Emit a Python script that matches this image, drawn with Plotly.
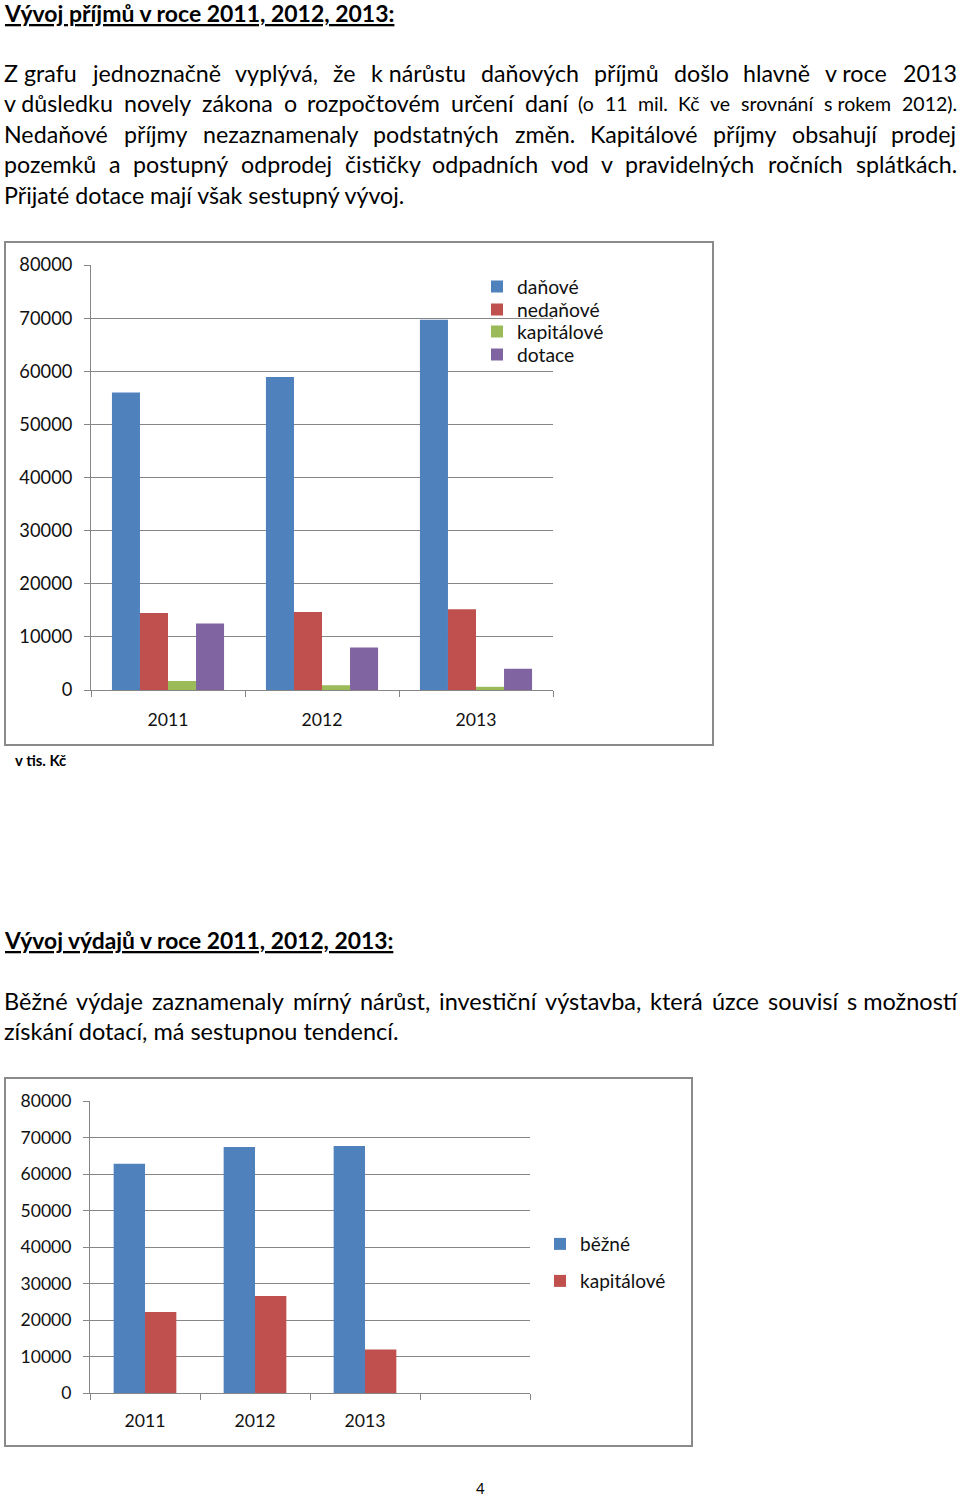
import glob
import os
import struct

import plotly.graph_objects as go

# ---------------- data ----------------
years = ["2011", "2012", "2013"]

# Vývoj příjmů (v tis. Kč)
danove = [56000, 58900, 69700]
nedanove = [14500, 14700, 15200]
kapitalove_prijmy = [1700, 900, 600]
dotace = [12500, 8000, 4000]

# Vývoj výdajů (v tis. Kč)
bezne = [62800, 67400, 67700]
kapitalove_vydaje = [22200, 26600, 11900]

y_ticks = [0, 10000, 20000, 30000, 40000, 50000, 60000, 70000, 80000]

# ---------------- font metrics (for text sizing / justification) ----------------
def find_font(pattern):
    for d in ["/usr/share/fonts", "/usr/local/share/fonts",
              os.path.expanduser("~/.fonts"), os.path.expanduser("~/.local/share/fonts")]:
        hits = glob.glob(os.path.join(d, "**", pattern), recursive=True)
        if hits:
            return sorted(hits)[0]
    return None


class Metrics:
    def __init__(self, path):
        self.ok = False
        self.cmap = {}
        try:
            self._load(path)
            self.ok = True
        except Exception:
            self.ok = False

    def _load(self, path):
        data = open(path, "rb").read()
        H = lambda o: struct.unpack(">H", data[o:o + 2])[0]
        h = lambda o: struct.unpack(">h", data[o:o + 2])[0]
        I = lambda o: struct.unpack(">I", data[o:o + 4])[0]
        n = H(4)
        tables = {}
        for i in range(n):
            tag = data[12 + 16 * i:16 + 16 * i].decode("latin1")
            tables[tag] = I(12 + 16 * i + 8)
        self.upem = H(tables["head"] + 18)
        nhm = H(tables["hhea"] + 34)
        ho = tables["hmtx"]
        self.adv = [H(ho + 4 * i) for i in range(nhm)]
        co = tables["cmap"]
        nsub = H(co + 2)
        sub4 = sub12 = None
        for i in range(nsub):
            soff = I(co + 8 + 8 * i)
            fmt = H(co + soff)
            if fmt == 12:
                sub12 = co + soff
            elif fmt == 4 and sub4 is None:
                sub4 = co + soff
        if sub12 is not None:
            ng = I(sub12 + 12)
            for g in range(ng):
                b = sub12 + 16 + 12 * g
                s, e, sg = I(b), I(b + 4), I(b + 8)
                for c in range(s, min(e, 0x2FFFF) + 1):
                    self.cmap[c] = sg + (c - s)
        elif sub4 is not None:
            o = sub4
            segx2 = H(o + 6)
            ends = o + 14
            starts = ends + segx2 + 2
            deltas = starts + segx2
            ranges = deltas + segx2
            for s in range(segx2 // 2):
                end, start = H(ends + 2 * s), H(starts + 2 * s)
                delta, ro = h(deltas + 2 * s), H(ranges + 2 * s)
                for c in range(start, end + 1):
                    if c == 0xFFFF:
                        continue
                    if ro == 0:
                        g = (c + delta) & 0xFFFF
                    else:
                        g = H(ranges + 2 * s + ro + 2 * (c - start))
                        if g:
                            g = (g + delta) & 0xFFFF
                    self.cmap[c] = g

    def width(self, txt, size):
        if not self.ok:
            return 0.5 * size * len(txt)
        tot = 0
        for ch in txt:
            g = self.cmap.get(ord(ch), 0)
            tot += self.adv[min(g, len(self.adv) - 1)]
        return tot / self.upem * size


REG = Metrics(find_font("Lato-Regular.ttf") or "")
BOLD = Metrics(find_font("Lato-Bold.ttf") or "")


def fit(metrics, txt, target_px):
    """font size so that txt spans target_px"""
    return target_px / metrics.width(txt, 1.0)


# ---------------- page geometry helpers ----------------
W, H = 960, 1496
def px(x):
    return x / W
def py(y):
    return 1 - y / H

FONT = "Lato"
BLUE, RED, GREEN, PURPLE = "#4F81BD", "#C0504D", "#9BBB59", "#8064A2"
GRID = "#868686"
TXT = "#111111"

# font sizes calibrated on reference text widths
S_BODY1 = fit(REG, "Přijaté dotace mají však sestupný vývoj.", 404)
S_TITLE1 = fit(BOLD, "Vývoj příjmů v roce 2011, 2012, 2013:", 392)
S_BODY2 = fit(REG, "získání dotací, má sestupnou tendencí.", 395)
S_TITLE2 = fit(BOLD, "Vývoj výdajů v roce 2011, 2012, 2013:", 392)
S_SMALL = S_BODY1 * 0.84
S_TICK1 = fit(REG, "80000", 53)
S_TICK2 = fit(REG, "80000", 51)
S_XT1 = fit(REG, "2011", 41)
S_LEG1 = fit(REG, "kapitálové", 87)
S_LEG2 = fit(REG, "kapitálové", 86)
S_UNIT = fit(BOLD, "v tis. Kč", 52)

fig = go.Figure()

# ---------------- chart 1: příjmy ----------------
xs = list(range(len(years)))
w1 = 0.182
series1 = [("daňové", danove, BLUE), ("nedaňové", nedanove, RED),
           ("kapitálové", kapitalove_prijmy, GREEN), ("dotace", dotace, PURPLE)]
leg_rows1 = [287, 310, 332, 355]
for i, (name, vals, col) in enumerate(series1):
    fig.add_trace(go.Bar(
        x=xs, y=vals, name=name, marker=dict(color=col, line=dict(width=0)),
        width=w1, offset=-2 * w1 + i * w1, xaxis="x", yaxis="y",
        legend="legend" if i == 0 else f"legend{i + 1}",
    ))

# ---------------- chart 2: výdaje ----------------
w2 = 0.285
series2 = [("běžné", bezne, BLUE), ("kapitálové", kapitalove_vydaje, RED)]
leg_rows2 = [1244, 1281]
for i, (name, vals, col) in enumerate(series2):
    fig.add_trace(go.Bar(
        x=xs, y=vals, name=name, marker=dict(color=col, line=dict(width=0)),
        width=w2, offset=-w2 + i * w2, xaxis="x2", yaxis="y2",
        legend=f"legend{5 + i}",
    ))


def xaxis_cfg(domain, anchor, ncat, size, standoff):
    return dict(
        domain=domain, anchor=anchor, range=[-0.5, ncat - 0.5],
        tickmode="array", tickvals=xs, ticktext=years, ticks="",
        showline=True, linecolor=GRID, linewidth=1, showgrid=False, zeroline=False,
        tickfont=dict(family=FONT, size=size, color=TXT), ticklabelstandoff=standoff,
        minor=dict(tickmode="array", tickvals=[k - 0.5 for k in range(ncat + 1)],
                   ticks="outside", ticklen=6, tickcolor=GRID, tickwidth=1, showgrid=False),
        fixedrange=True, automargin=False,
    )


def yaxis_cfg(domain, anchor, size, standoff):
    return dict(
        domain=domain, anchor=anchor, range=[0, 80000],
        tickmode="array", tickvals=y_ticks, ticktext=[str(v) for v in y_ticks],
        showgrid=True, gridcolor=GRID, gridwidth=1, zeroline=False,
        showline=True, linecolor=GRID, linewidth=1,
        ticks="outside", ticklen=6, tickcolor=GRID,
        tickfont=dict(family=FONT, size=size, color=TXT), ticklabelstandoff=standoff,
        fixedrange=True, automargin=False,
    )


def legend_cfg(text_x, row_y, size):
    return dict(x=px(text_x - 40), y=py(row_y), xanchor="left", yanchor="middle",
                font=dict(family=FONT, size=size, color=TXT), bgcolor="rgba(0,0,0,0)",
                borderwidth=0, itemclick=False, itemdoubleclick=False)


layout = dict(
    width=W, height=H, margin=dict(l=0, r=0, t=0, b=0, autoexpand=False),
    paper_bgcolor="white", plot_bgcolor="white",
    barmode="overlay", showlegend=True,
    xaxis=xaxis_cfg([px(91), px(553)], "y", 3, S_XT1, 14),
    yaxis=yaxis_cfg([py(690), py(265)], "x", S_TICK1, 8),
    xaxis2=xaxis_cfg([px(90), px(530)], "y2", 4, S_XT1, 12),
    yaxis2=yaxis_cfg([py(1393), py(1101)], "x2", S_TICK2, 8),
)
for i, ry in enumerate(leg_rows1):
    layout["legend" if i == 0 else f"legend{i + 1}"] = legend_cfg(517, ry, S_LEG1)
for i, ry in enumerate(leg_rows2):
    layout[f"legend{5 + i}"] = legend_cfg(580, ry, S_LEG2)
fig.update_layout(**layout)

# chart frames
fig.add_shape(type="rect", xref="paper", yref="paper",
              x0=px(5), x1=px(713), y0=py(745), y1=py(242),
              line=dict(color="#8a8a8a", width=2), fillcolor="rgba(0,0,0,0)", layer="below")
fig.add_shape(type="rect", xref="paper", yref="paper",
              x0=px(5), x1=px(692), y0=py(1446), y1=py(1078),
              line=dict(color="#8a8a8a", width=2), fillcolor="rgba(0,0,0,0)", layer="below")

# ---------------- document text ----------------
def text(t, x, y, size, bold=False, underline=False, anchor="left"):
    f = dict(family=FONT, size=size, color="black")
    if bold:
        f["weight"] = "bold"
    if underline:
        f["lineposition"] = "under"
    fig.add_annotation(text=t, x=px(x), y=py(y), xref="paper", yref="paper",
                       xanchor=anchor, yanchor="middle", showarrow=False, font=f,
                       borderpad=0, borderwidth=0)


def justified(tokens, y, left=4, right=957):
    """tokens: list of (word, size). Words spread so the line fills left..right."""
    widths = [REG.width(w, s) for w, s in tokens]
    gap = (right - left - sum(widths)) / (len(tokens) - 1)
    x = left
    for (w, s), wd in zip(tokens, widths):
        text(w, x, y, s)
        x += wd + gap


def words(s, size):
    return [(w.replace("\u00a0", " "), size) for w in s.split(" ")]


NB = "\u00a0"
text("Vývoj příjmů v roce 2011, 2012, 2013:", 4, 13, S_TITLE1, bold=True, underline=True)

justified(words(f"Z{NB}grafu jednoznačně vyplývá, že k{NB}nárůstu daňových příjmů došlo hlavně v{NB}roce 2013", S_BODY1), 73)
justified(words(f"v{NB}důsledku novely zákona o rozpočtovém určení daní", S_BODY1)
          + words(f"(o 11 mil. Kč ve srovnání s{NB}rokem 2012).", S_SMALL), 103)
justified(words("Nedaňové příjmy nezaznamenaly podstatných změn. Kapitálové příjmy obsahují prodej", S_BODY1), 134)
justified(words("pozemků a postupný odprodej čističky odpadních vod v pravidelných ročních splátkách.", S_BODY1), 164)
text("Přijaté dotace mají však sestupný vývoj.", 4, 195, S_BODY1)

text("v tis. Kč", 15, 760, S_UNIT, bold=True)

text("Vývoj výdajů v roce 2011, 2012, 2013:", 4, 940, S_TITLE2, bold=True, underline=True)
justified(words(f"Běžné výdaje zaznamenaly mírný nárůst, investiční výstavba, která úzce souvisí s{NB}možností", S_BODY2), 1001)
text("získání dotací, má sestupnou tendencí.", 4, 1031, S_BODY2)

text("4", 480, 1488, 15, anchor="center")

fig.write_html("out.html", config={"displayModeBar": False},
               post_script="document.body.style.margin='0';document.body.style.overflow='hidden';")
